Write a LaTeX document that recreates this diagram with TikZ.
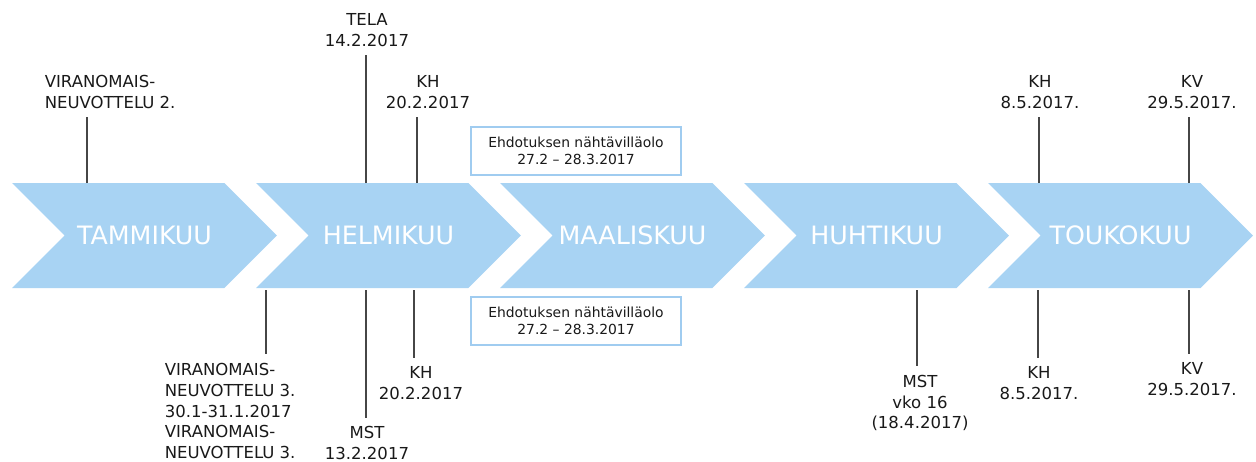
\documentclass[tikz,border=0pt]{standalone}
\usepackage{fontspec}
\setmainfont{DejaVu Sans}
\usetikzlibrary{shapes.symbols, positioning}
\definecolor{chevblue}{RGB}{168,211,243}
\definecolor{boxblue}{RGB}{160,204,240}
\definecolor{tickgray}{RGB}{70,70,70}
\definecolor{labelgray}{RGB}{25,25,25}

\begin{document}
\begin{tikzpicture}[
    x=0.02cm, y=-0.02cm,
    month/.style={signal, signal from=west, signal to=east, signal pointer angle=90,
        fill=chevblue, draw=none, minimum width=5.3cm, minimum height=2.1cm, inner sep=0pt,
        text=white, font=\fontsize{14.4}{16}\selectfont},
    lbl/.style={align=center, inner sep=0pt, outer sep=5pt, text=labelgray,
        font=\fontsize{9.4}{11.9}\selectfont},
    lblleft/.style={lbl, align=left},
    notebox/.style={draw=boxblue, line width=0.9pt, minimum width=4.2cm, minimum height=0.96cm,
        align=center, text=labelgray, font=\fontsize{7.9}{9.6}\selectfont},
    tick/.style={draw=tickgray, line width=0.8pt}
]
\useasboundingbox (0,0) rectangle (1256,461);

% Months
\node[month] (tam) at (144.5,235.5) {TAMMIKUU};
\node[month] (hel) at (388.5,235.5) {HELMIKUU};
\node[month] (maa) at (632.5,235.5) {MAALISKUU};
\node[month] (huh) at (876.5,235.5) {HUHTIKUU};
\node[month] (tou) at (1120.5,235.5) {TOUKOKUU};

% Notes
\node[notebox] (ehd1) at (576,151) {Ehdotuksen nähtävilläolo\\27.2 – 28.3.2017};
\node[notebox] (ehd2) at (576,321) {Ehdotuksen nähtävilläolo\\27.2 – 28.3.2017};

% Labels above
\node[lblleft, anchor=west] (vn2) at (36,92) {VIRANOMAIS-\\NEUVOTTELU 2.};
\node[lbl] (tela) at (367,30) {TELA\\14.2.2017};
\node[lbl] (kh1) at (428,92) {KH\\20.2.2017};
\node[lbl] (kh3) at (1040,92) {KH\\8.5.2017.};
\node[lbl] (kv1) at (1192,92) {KV\\29.5.2017.};

% Labels below
\node[lblleft, anchor=west] (vn3) at (156,411) {VIRANOMAIS-\\NEUVOTTELU 3.\\30.1-31.1.2017\\VIRANOMAIS-\\NEUVOTTELU 3.};
\node[lbl] (mst1) at (367,443) {MST\\13.2.2017};
\node[lbl] (kh2) at (421,383) {KH\\20.2.2017};
\node[lbl] (mst2) at (920,403) {MST\\vko 16\\(18.4.2017)};
\node[lbl] (kh4) at (1039,383) {KH\\8.5.2017.};
\node[lbl] (kv2) at (1192,379) {KV\\29.5.2017.};

% Tick points on the months
\coordinate (tvn2) at (87,183);
\coordinate (ttela) at (366,183);
\coordinate (tkh1) at (417,183);
\coordinate (tkh3) at (1039,183);
\coordinate (tkv1) at (1189,183);
\coordinate (tvn3) at (266,290);
\coordinate (tmst1) at (366,290);
\coordinate (tkh2) at (414,290);
\coordinate (tmst2) at (917,290);
\coordinate (tkh4) at (1038,290);
\coordinate (tkv2) at (1189,290);

% Ticks
\draw[tick] (tvn2) -- (tvn2 |- vn2.south);
\draw[tick] (ttela) -- (ttela |- tela.south);
\draw[tick] (tkh1) -- (tkh1 |- kh1.south);
\draw[tick] (tkh3) -- (tkh3 |- kh3.south);
\draw[tick] (tkv1) -- (tkv1 |- kv1.south);
\draw[tick] (tvn3) -- (tvn3 |- vn3.north);
\draw[tick] (tmst1) -- (tmst1 |- mst1.north);
\draw[tick] (tkh2) -- (tkh2 |- kh2.north);
\draw[tick] (tmst2) -- (tmst2 |- mst2.north);
\draw[tick] (tkh4) -- (tkh4 |- kh4.north);
\draw[tick] (tkv2) -- (tkv2 |- kv2.north);

\end{tikzpicture}
\end{document}
